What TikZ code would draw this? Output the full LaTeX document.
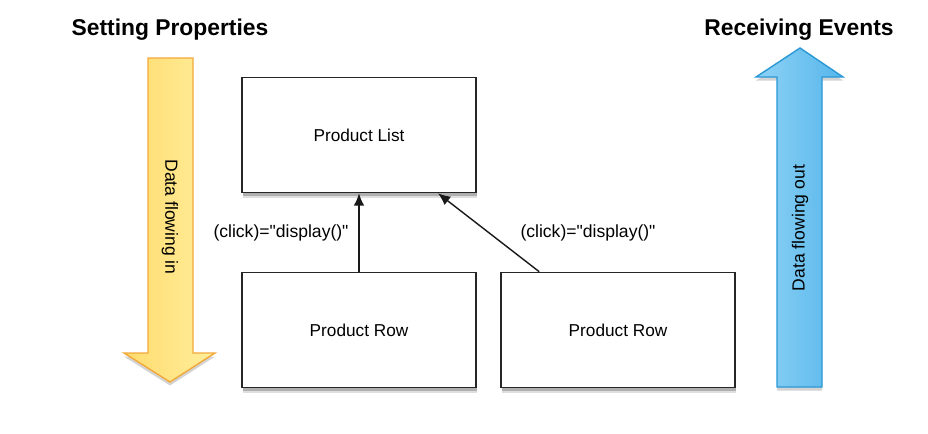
\documentclass[tikz,border=0pt]{standalone}
\usepackage{fontspec}
\setmainfont{Liberation Sans}
\usetikzlibrary{shadows,arrows.meta}

\definecolor{inyellowL}{HTML}{FFDB6E}
\definecolor{inyellowR}{HTML}{FFEE9C}
\definecolor{inorange}{HTML}{F2A93B}
\definecolor{outblueL}{HTML}{8ED2F6}
\definecolor{outblueR}{HTML}{56B6EA}
\definecolor{outedge}{HTML}{2B98D6}

\tikzset{
  box/.style={draw=black!85, line width=0.9pt, fill=white,
    minimum width=4.68cm, minimum height=2.3cm, inner sep=0pt,
    drop shadow={opacity=0.25, shadow xshift=0.5pt, shadow yshift=-3.2pt},
    drop shadow={opacity=0.5, shadow xshift=0.3pt, shadow yshift=-1.8pt},
    font=\fontsize{9.8}{11}\selectfont},
  flow/.style={draw=black!90, line width=0.8pt, -{Latex[length=7pt,width=6pt]}},
  lbl/.style={font=\fontsize{10}{12}\selectfont},
  title/.style={font=\bfseries\fontsize{13}{15}\selectfont},
  inarrow/.style={draw=inorange, line width=0.8pt, left color=inyellowL, right color=inyellowR,
    drop shadow={opacity=0.35, shadow xshift=0pt, shadow yshift=-2pt}},
  outarrow/.style={draw=outedge, line width=0.8pt, left color=outblueL, right color=outblueR,
    drop shadow={opacity=0.35, shadow xshift=0pt, shadow yshift=-2pt}}
}

\begin{document}
\begin{tikzpicture}[x=0.02cm,y=-0.02cm]
  \useasboundingbox (0,0) rectangle (928,433);

  % titles
  \node[title] (settitle) at (170,30) {Setting Properties};
  \node[title] (rectitle) at (799,30) {Receiving Events};

  % big flow arrows
  \draw[inarrow] (148,58) -- (193,58) -- (193,353) -- (215,353) -- (170,382)
    -- (124,353) -- (148,353) -- cycle;
  \node[lbl, rotate=-90] (inlbl) at (170,217) {Data flowing in};

  \draw[outarrow] (777,387) -- (777,77) -- (756,77) -- (800,48) -- (843,77)
    -- (822,77) -- (822,387) -- cycle;
  \node[lbl, rotate=90] (outlbl) at (800,228) {Data flowing out};

  % components
  \node[box] (list) at (359,135) {Product List};
  \node[box] (rowA) at (359,330) {Product Row};
  \node[box] (rowB) at (618,330) {Product Row};

  % events
  \draw[flow] (rowA.north) -- (list.south);
  \draw[flow] ([xshift=0.78cm]rowB.north west) -- ([xshift=1.58cm]list.south);
  \node[lbl] (clickA) at (281,233) {(click)=\textquotedbl display()\textquotedbl};
  \node[lbl] (clickB) at (588,233) {(click)=\textquotedbl display()\textquotedbl};
\end{tikzpicture}
\end{document}
